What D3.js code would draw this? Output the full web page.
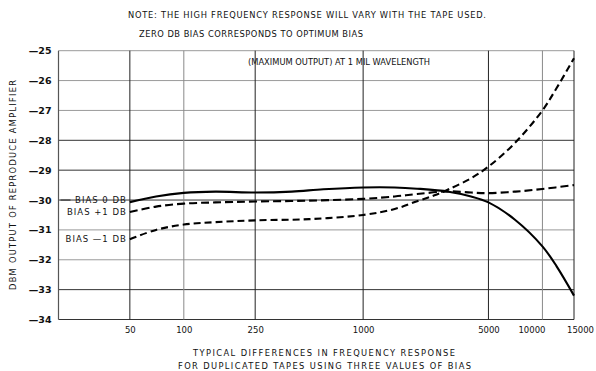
<!DOCTYPE html>
<html lang="en">
<head>
    <meta charset="UTF-8">
    <title>Frequency response vs bias</title>
    <script src="https://d3js.org/d3.v7.min.js"></script>
    <style>
        body { margin: 0; background: #fff; }
        text { font-family: "DejaVu Sans", sans-serif; fill: #111; }
        .note, .caption, .sub { font-size: 8.3px; }
        .axis text { font-size: 8.5px; }
        .yaxis text { font-size: 9.5px; font-weight: bold; }
        .axis path { display: none; }
        .series-label { font-size: 8.5px; text-anchor: end; letter-spacing: 1px; }
    </style>
</head>
<body>
    <svg id="chart" width="596" height="371"></svg>

    <script>
        // frequencies (Hz) and dB values
        var freqs0 = [50, 70, 100, 150, 250, 400, 600, 1000, 1500, 2000, 3000, 4000, 5000, 7000, 10000, 12000, 15000];
        var bias0 = [-30.07, -29.88, -29.76, -29.72, -29.75, -29.72, -29.64, -29.58, -29.58, -29.62, -29.72, -29.88, -30.08, -30.65, -31.55, -32.22, -33.2];

        var freqsPlus = [50, 70, 100, 150, 250, 500, 1000, 1500, 2000, 3000, 4000, 5000, 7000, 10000, 15000];
        var biasPlus1 = [-30.4, -30.22, -30.12, -30.08, -30.05, -30.02, -29.96, -29.88, -29.8, -29.71, -29.75, -29.77, -29.72, -29.63, -29.5];

        var freqsMinus = [50, 70, 100, 150, 250, 500, 1000, 1500, 2000, 2500, 3000, 4000, 5000, 7000, 10000, 12000, 15000];
        var biasMinus1 = [-31.31, -31.0, -30.82, -30.74, -30.68, -30.64, -30.5, -30.3, -30.04, -29.84, -29.64, -29.27, -28.88, -28.1, -27.0, -26.25, -25.25];

        var xTicks = [50, 100, 250, 1000, 5000, 10000, 15000];
        var yTicks = [-25, -26, -27, -28, -29, -30, -31, -32, -33, -34];

        var pl = 58.5, pr = 574, pt = 50.7, pb = 319.5;

        var svg = d3.select("#chart");

        var x = d3.scaleLog().domain([20, 15000]).range([pl, pr]);
        var y = d3.scaleLinear().domain([-34, -25]).range([pb, pt]);

        // grid
        var grays = [-25, -26, -27, -31, -32];
        svg.append("g").selectAll("line")
            .data(yTicks)
            .enter().append("line")
            .attr("x1", pl).attr("x2", pr)
            .attr("y1", function (d) { return y(d); })
            .attr("y2", function (d) { return y(d); })
            .attr("stroke", function (d) { return grays.indexOf(d) >= 0 ? "#9a9a9a" : "#333"; })
            .attr("stroke-width", 1);

        svg.append("g").selectAll("line")
            .data(xTicks)
            .enter().append("line")
            .attr("x1", function (d) { return x(d); })
            .attr("x2", function (d) { return x(d); })
            .attr("y1", pt).attr("y2", pb)
            .attr("stroke", function (d) { return (d === 100 || d === 10000) ? "#8a8a8a" : "#222"; })
            .attr("stroke-width", 1);

        // left border
        svg.append("line")
            .attr("x1", pl).attr("x2", pl)
            .attr("y1", pt).attr("y2", pb)
            .attr("stroke", "#555").attr("stroke-width", 1.2);

        // axes (labels only)
        var xAxis = svg.append("g")
            .attr("class", "axis")
            .attr("transform", "translate(0," + pb + ")")
            .call(d3.axisBottom(x).tickValues(xTicks).tickSize(0).tickPadding(7)
                .tickFormat(function (d) { return String(d); }));

        // the two crowded labels at the right sit spread apart in the original
        xAxis.selectAll(".tick text")
            .attr("dx", function (d) { return d === 10000 ? -11 : (d === 15000 ? 6 : 0); });

        svg.append("g")
            .attr("class", "axis yaxis")
            .attr("transform", "translate(" + pl + ",0)")
            .call(d3.axisLeft(y).tickValues(yTicks).tickSize(0).tickPadding(7)
                .tickFormat(function (d) { return "\u2014" + Math.abs(d); }));

        // curves
        var line = d3.line()
            .x(function (d) { return x(d[0]); })
            .y(function (d) { return y(d[1]); })
            .curve(d3.curveCatmullRom.alpha(0.5));

        var series = [
            { f: freqs0, v: bias0, dash: null, label: "BIAS 0 DB", ly: -30 },
            { f: freqsPlus, v: biasPlus1, dash: "8,4", label: "BIAS +1 DB", ly: -30.4 },
            { f: freqsMinus, v: biasMinus1, dash: "7,4", label: "BIAS \u20141 DB", ly: -31.3 }
        ];

        series.forEach(function (s) {
            svg.append("path")
                .datum(d3.zip(s.f, s.v))
                .attr("fill", "none")
                .attr("stroke", "#000")
                .attr("stroke-width", 2.1)
                .attr("stroke-dasharray", s.dash)
                .attr("d", line);

            svg.append("text")
                .attr("class", "series-label")
                .attr("x", x(50) - 3)
                .attr("y", y(s.ly) + 3)
                .text(s.label);
        });

        // leader before "BIAS 0 DB"
        svg.append("line")
            .attr("x1", pl + 2).attr("x2", pl + 12)
            .attr("y1", y(-30)).attr("y2", y(-30))
            .attr("stroke", "#222").attr("stroke-width", 1);

        // texts
        svg.append("text").attr("class", "note")
            .attr("x", 128).attr("y", 18)
            .attr("textLength", 358).attr("lengthAdjust", "spacing")
            .text("NOTE: THE HIGH FREQUENCY RESPONSE WILL VARY WITH THE TAPE USED.");

        svg.append("text").attr("class", "note")
            .attr("x", 139).attr("y", 37)
            .attr("textLength", 224).attr("lengthAdjust", "spacing")
            .text("ZERO DB BIAS CORRESPONDS TO OPTIMUM BIAS");

        svg.append("text").attr("class", "sub")
            .attr("x", 248).attr("y", 65)
            .attr("textLength", 182).attr("lengthAdjust", "spacing")
            .text("(MAXIMUM OUTPUT) AT 1 MIL WAVELENGTH");

        svg.append("text").attr("class", "caption")
            .attr("x", 193).attr("y", 356)
            .attr("textLength", 262).attr("lengthAdjust", "spacing")
            .text("TYPICAL DIFFERENCES IN FREQUENCY RESPONSE");

        svg.append("text").attr("class", "caption")
            .attr("x", 178).attr("y", 369)
            .attr("textLength", 293).attr("lengthAdjust", "spacing")
            .text("FOR DUPLICATED TAPES USING THREE VALUES OF BIAS");

        svg.append("text").attr("class", "caption")
            .attr("transform", "translate(16,185) rotate(-90)")
            .attr("text-anchor", "middle")
            .attr("textLength", 210).attr("lengthAdjust", "spacing")
            .text("DBM OUTPUT OF REPRODUCE AMPLIFIER");
    </script>
</body>
</html>
